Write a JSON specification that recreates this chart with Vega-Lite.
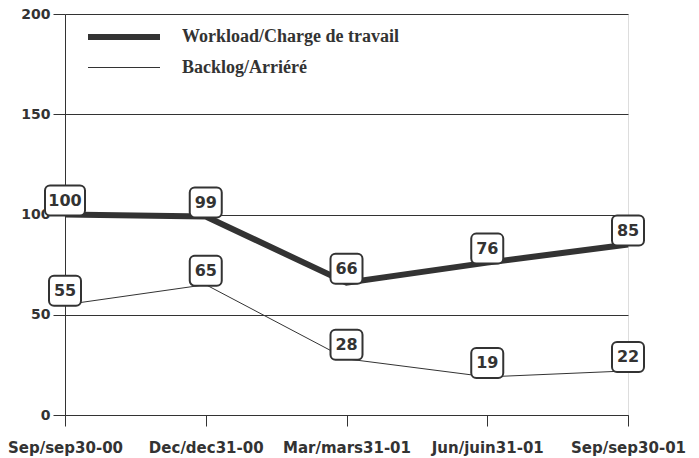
{
  "$schema": "https://vega.github.io/schema/vega-lite/v6.json",
  "width": 563,
  "height": 401,
  "autosize": "none",
  "padding": {"left": 65, "top": 14, "right": 71, "bottom": 43},
  "background": "white",
  "data": {
    "values": [
      {"date": "Sep/sep30-00", "series": "Workload/Charge de travail", "value": 100},
      {"date": "Dec/dec31-00", "series": "Workload/Charge de travail", "value": 99},
      {"date": "Mar/mars31-01", "series": "Workload/Charge de travail", "value": 66},
      {"date": "Jun/juin31-01", "series": "Workload/Charge de travail", "value": 76},
      {"date": "Sep/sep30-01", "series": "Workload/Charge de travail", "value": 85},
      {"date": "Sep/sep30-00", "series": "Backlog/Arriéré", "value": 55},
      {"date": "Dec/dec31-00", "series": "Backlog/Arriéré", "value": 65},
      {"date": "Mar/mars31-01", "series": "Backlog/Arriéré", "value": 28},
      {"date": "Jun/juin31-01", "series": "Backlog/Arriéré", "value": 19},
      {"date": "Sep/sep30-01", "series": "Backlog/Arriéré", "value": 22}
    ]
  },
  "encoding": {
    "x": {
      "field": "date",
      "type": "ordinal",
      "sort": ["Sep/sep30-00", "Dec/dec31-00", "Mar/mars31-01", "Jun/juin31-01", "Sep/sep30-01"],
      "scale": {"type": "point", "padding": 0},
      "axis": {
        "title": null, "labelAngle": 0, "grid": false,
        "domainColor": "#333", "tickColor": "#333", "tickSize": 11,
        "labelPadding": 14, "labelFont": "DejaVu Sans", "labelFontWeight": "bold",
        "labelFontSize": 15, "labelColor": "#333"
      }
    },
    "y": {
      "field": "value",
      "type": "quantitative",
      "scale": {"domain": [0, 200], "nice": false},
      "axis": {
        "title": null, "values": [0, 50, 100, 150, 200], "grid": true,
        "gridColor": "#333", "gridOpacity": 1, "domainColor": "#333",
        "tickColor": "#333", "tickSize": 12, "labelPadding": 3,
        "labelFont": "DejaVu Sans", "labelFontWeight": "bold",
        "labelFontSize": 14, "labelColor": "#333"
      }
    }
  },
  "layer": [
    {
      "mark": {"type": "line", "color": "#333"},
      "encoding": {
        "detail": {"field": "series"},
        "strokeWidth": {
          "field": "series",
          "type": "nominal",
          "scale": {"domain": ["Workload/Charge de travail", "Backlog/Arriéré"], "range": [6, 1]},
          "legend": {
            "title": null, "orient": "none", "legendX": 38, "legendY": 2,
            "symbolType": "M-2,0H2", "symbolSize": 1296, "symbolStrokeColor": "#333",
            "labelOffset": 37, "labelFont": "Liberation Serif", "labelFontWeight": "bold",
            "labelFontSize": 18, "labelColor": "#333", "labelLimit": 400, "rowPadding": 0
          }
        }
      }
    },
    {
      "transform": [{"filter": "datum.value < 100"}],
      "mark": {"type": "rect", "width": 32, "height": 30, "cornerRadius": 5, "fill": "white", "stroke": "#333", "strokeWidth": 2, "yOffset": -14}
    },
    {
      "transform": [{"filter": "datum.value >= 100"}],
      "mark": {"type": "rect", "width": 40, "height": 30, "cornerRadius": 5, "fill": "white", "stroke": "#333", "strokeWidth": 2, "yOffset": -14}
    },
    {
      "mark": {"type": "text", "font": "DejaVu Sans", "fontWeight": "bold", "fontSize": 16, "color": "#333", "yOffset": -14, "baseline": "middle"},
      "encoding": {"text": {"field": "value", "type": "quantitative"}}
    }
  ]
}
